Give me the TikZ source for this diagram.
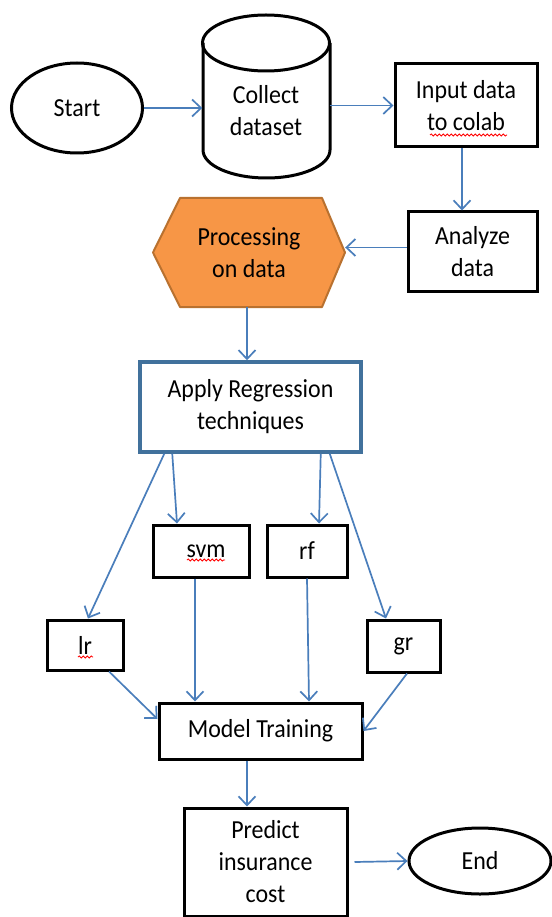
\documentclass[tikz,border=0pt]{standalone}
\usepackage{fontspec}
\setmainfont{Carlito}[FakeStretch=0.92]
\usetikzlibrary{arrows.meta,decorations.pathmorphing,shapes.geometric}
\definecolor{arrowblue}{HTML}{4A7EBB}
\definecolor{boxblue}{HTML}{41719C}
\definecolor{hexfill}{HTML}{F79646}
\definecolor{hexdraw}{HTML}{B9712F}
\begin{document}
\begin{tikzpicture}[x=1pt,y=-1pt,
  every node/.style={font=\fontsize{26}{32}\selectfont, align=center, inner sep=0pt},
  box/.style={draw=black, line width=3pt, rectangle},
  arr/.style={draw=arrowblue, line width=1.7pt, -{Straight Barb[length=9pt,width=17pt]}},
  wavy/.style={draw=red, line width=0.8pt, decorate, decoration={snake, segment length=4pt, amplitude=1.1pt}}
]
\useasboundingbox (0,0) rectangle (551,917);
\fill[white] (0,0) rectangle (551,917);

% start
\node[ellipse, draw, line width=3pt, minimum width=131pt, minimum height=90pt] (start) at (77,108) {Start};

% cylinder
\node[minimum width=127pt, minimum height=163pt] (db) at (266,96.5) {};
\draw[line width=3pt] (203,43) -- (203,150) arc[start angle=180, end angle=360, x radius=63.5pt, y radius=28pt] -- (330,43);
\draw[line width=3pt] (266,43) ellipse [x radius=63.5pt, y radius=28pt];
\node (dbtext) at (266,111) {Collect\\dataset};

% input, analyze
\node[box, minimum width=142pt, minimum height=83pt] (inp) at (466,105.5) {Input data\\to colab};
\node[box, minimum width=129pt, minimum height=79pt] (ana) at (472.5,251.5) {Analyze\\data};

% hexagon
\draw[fill=hexfill, draw=hexdraw, line width=2pt, line join=round]
  (153,252.5) -- (180,198) -- (322,198) -- (345,252.5) -- (322,307) -- (180,307) -- cycle;
\node[minimum width=192pt, minimum height=109pt] (proc) at (249,252.5) {Processing\\on data};

% apply
\node[rectangle, draw=boxblue, line width=3.5pt, minimum width=221pt, minimum height=90pt] (apply) at (250.5,407) {Apply Regression\\techniques};

% algorithms
\node[box, minimum width=96pt, minimum height=52pt] (svm) at (201,551) {\kern10pt svm};
\node[box, minimum width=80pt, minimum height=52pt] (rf) at (307,551) {rf};
\node[box, minimum width=76pt, minimum height=50pt] (lr) at (85,645) {lr};
\node[box, minimum width=73pt, minimum height=52pt] (gr) at (403.5,646) {gr};

% model, predict, end
\node[box, minimum width=203pt, minimum height=56pt] (model) at (260.5,731) {Model Training};
\node[box, minimum width=163pt, minimum height=108pt] (pred) at (265.5,862) {Predict\\insurance\\cost};
\node[ellipse, draw, line width=3pt, minimum width=142pt, minimum height=66pt] (end) at (480,861) {End};

% spell-check underlines
\draw[wavy] (430,135) -- (507,135);
\draw[wavy] (187,560) -- (225,560);
\draw[wavy] (78,657) -- (93,657);

% connectors
\draw[arr] (start.east) -- (start.east -| db.west);
\draw[arr] (db.east |- inp.west) -- (inp.west);
\draw[arr] ([xshift=-4pt]inp.south) -- ([xshift=-4pt]inp.south |- ana.north);
\draw[arr] ([yshift=4pt]ana.west) -- ([yshift=4pt]ana.west -| proc.east);
\draw[arr] ([xshift=-2pt]proc.south) -- ([xshift=-2pt]proc.south |- apply.north);
\draw[arr] ([xshift=26pt]apply.south west) -- ([xshift=3pt]lr.north);
\draw[arr] ([xshift=34pt]apply.south west) -- ([xshift=-24pt]svm.north);
\draw[arr] ([xshift=-42pt]apply.south east) -- ([xshift=12pt]rf.north);
\draw[arr] ([xshift=-33pt]apply.south east) -- ([xshift=-17.5pt]gr.north);
\draw[arr] ([xshift=-6pt]svm.south) -- ([xshift=-6pt]svm.south |- model.north);
\draw[arr] (rf.south) -- ([xshift=48.5pt]model.north);
\draw[arr] ([xshift=24pt]lr.south) -- ([yshift=12pt]model.west);
\draw[arr] ([xshift=3.5pt]gr.south) -- (model.east);
\draw[arr] ([xshift=-13.5pt]model.south) -- ([xshift=-13.5pt]model.south |- pred.north);
\draw[arr] ([xshift=6pt]pred.east) -- (end.west);
\end{tikzpicture}
\end{document}
